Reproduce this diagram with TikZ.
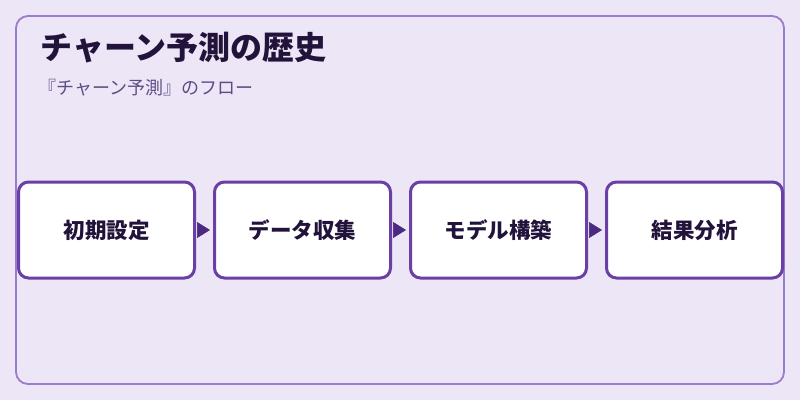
\documentclass[tikz,border=0pt]{standalone}
\usepackage{fontspec}
\setmainfont{Noto Sans CJK JP}
\usetikzlibrary{positioning, arrows.meta}

\definecolor{bgpurple}{HTML}{EDE6F6}
\definecolor{framepurple}{HTML}{9B7BCC}
\definecolor{boxpurple}{HTML}{6A40A6}
\definecolor{arrowpurple}{HTML}{4B2A82}
\definecolor{titleink}{HTML}{22133B}
\definecolor{subink}{HTML}{5F4C85}

\tikzset{
    stage/.style = {draw = boxpurple, fill = white, line width = 3pt, rounded corners = 10pt,
                    minimum width = 176pt, minimum height = 96pt, inner sep = 0pt,
                    font = \fontsize{21.5}{26}\selectfont\bfseries, text = titleink},
    flow/.style = {arrowpurple, line width = 0.6pt, shorten <= 2pt, shorten >= 3pt,
                   -{Triangle[length = 13pt, width = 16pt]}}
}

\begin{document}
\begin{tikzpicture}[x = 1pt, y = -1pt]
                    \coordinate (page_nw) at (0, 0);
                    \coordinate (page_se) at (800, 400);
                    \fill[bgpurple] (page_nw) rectangle (page_se);
                    \useasboundingbox (page_nw) rectangle (page_se);
                    
                    \draw[framepurple, line width = 1.8pt, rounded corners = 12pt](16, 16) rectangle (784, 384);
                    
                    \node[anchor = west, inner sep = 0pt, text = titleink, font = \fontsize{32}{38}\selectfont\bfseries] (title) at (40.5, 47.5) {チャーン予測の歴史};
                    \node[anchor = west, inner sep = 0pt, text = subink, font = \fontsize{18}{22}\selectfont] (subtitle) at (38, 88) {『チャーン予測』のフロー};
                    
                    \node[stage] (box_init) at (106.5, 230) {初期設定};
                    \node[stage, right = 17pt of box_init] (box_data) {データ収集};
                    \node[stage, right = 17pt of box_data] (box_model) {モデル構築};
                    \node[stage, right = 17pt of box_model] (box_result) {結果分析};
                    
                    \draw[flow](box_init) -- (box_data);
                    \draw[flow](box_data) -- (box_model);
                    \draw[flow](box_model) -- (box_result);
                \end{tikzpicture}
\end{document}
